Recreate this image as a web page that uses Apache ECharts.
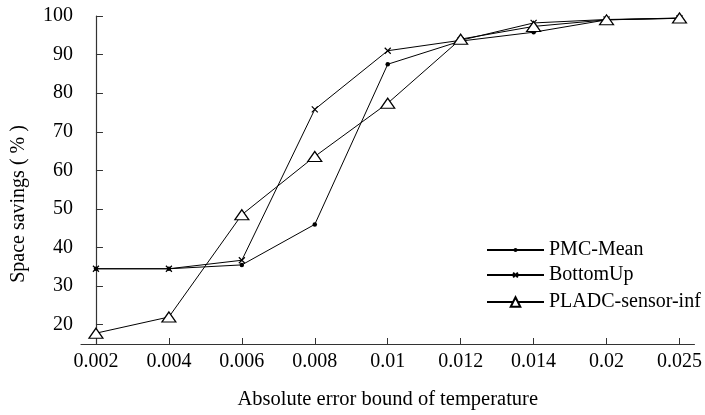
<!DOCTYPE html>
<html>
<head>
<meta charset="utf-8">
<script src="https://cdn.jsdelivr.net/npm/echarts@6/dist/echarts.min.js"></script>
<style>html,body{margin:0;padding:0;background:#fff;}#c{width:705px;height:415px;}</style>
</head>
<body>
<div id="c"></div>
<script>
var categories = ['0.002','0.004','0.006','0.008','0.01','0.012','0.014','0.02','0.025'];
var pmcMean = [34.5, 34.5, 35.5, 46, 87.5, 93.5, 95.8, 99, 99.4];
var bottomUp = [34.5, 34.5, 36.7, 75.8, 91, 93.7, 98.2, 99.1, 99.4];
var pladc = [17.8, 22, 48.5, 63.6, 77.4, 94, 97.3, 99, 99.5];
var yTicks = [20, 30, 40, 50, 60, 70, 80, 90, 100];
var seriesNames = ['PMC-Mean', 'BottomUp', 'PLADC-sensor-inf'];

function toPts(arr){ return arr.map(function(v,i){ return [i, v]; }); }
var xIdx = categories.map(function(c,i){ return i; });
var font = 'Liberation Serif, Times New Roman, serif';

function legendFor(name, top, h){
  return {
    orient: 'vertical', left: 486, top: top, padding: 0,
    itemWidth: 57, itemHeight: h,
    textStyle: {fontFamily: font, fontSize: 20, color: '#000'},
    data: [name]
  };
}

var chart = echarts.init(document.getElementById('c'), null, {renderer:'canvas'});
chart.setOption({
  backgroundColor: '#ffffff',
  animation: false,
  textStyle: {fontFamily: font, color: '#000'},
  grid: {left: 81, right: 8, top: 16, bottom: 71},
  legend: [
    legendFor(seriesNames[0], 240, 5),
    legendFor(seriesNames[1], 265, 6),
    legendFor(seriesNames[2], 292, 12)
  ],
  xAxis: {
    type: 'value', min: -0.205, max: 8.205,
    name: 'Absolute error bound of temperature',
    nameLocation: 'middle', nameGap: 45,
    nameTextStyle: {fontFamily: font, fontSize: 20.5, color: '#000'},
    axisLine: {show: true, lineStyle: {color: '#333', width: 1.2}},
    axisTick: {show: true, inside: true, length: 6, customValues: xIdx, lineStyle: {color: '#333'}},
    axisLabel: {customValues: xIdx, margin: 8, fontFamily: font, fontSize: 20, color: '#000',
      formatter: function(v){ return categories[Math.round(v)]; }},
    splitLine: {show: false}
  },
  yAxis: {
    type: 'value', min: 15, max: 100,
    name: 'Space savings ( % )',
    nameLocation: 'middle', nameGap: 52,
    nameTextStyle: {fontFamily: font, fontSize: 20, color: '#000', padding: [0, 48, 0, 0]},
    axisLine: {show: true, lineStyle: {color: '#333', width: 1.2}},
    axisTick: {show: true, inside: true, length: 7, customValues: yTicks, lineStyle: {color: '#333'}},
    axisLabel: {customValues: yTicks, margin: 8, fontFamily: font, fontSize: 20, color: '#000'},
    splitLine: {show: false}
  },
  series: [
    {name: seriesNames[0], type: 'line', data: toPts(pmcMean), symbol: 'circle', symbolSize: 4.5,
      lineStyle: {color: '#000', width: 1}, itemStyle: {color: '#000', borderWidth: 0}},
    {name: seriesNames[1], type: 'line', data: toPts(bottomUp),
      symbol: 'path://M0,0 L10,10 M10,0 L0,10', symbolSize: 6,
      lineStyle: {color: '#000', width: 1}, itemStyle: {color: 'none', borderColor: '#000', borderWidth: 1.2}},
    {name: seriesNames[2], type: 'line', data: toPts(pladc), symbol: 'triangle', symbolSize: [14, 10],
      lineStyle: {color: '#000', width: 1}, itemStyle: {color: '#fff', borderColor: '#000', borderWidth: 1.2}}
  ]
});
</script>
</body>
</html>
